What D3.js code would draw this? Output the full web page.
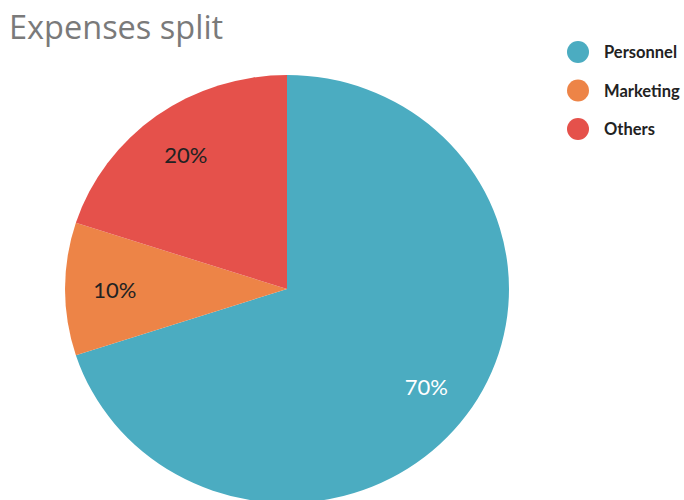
<!DOCTYPE html>
<html>
<head>
<meta charset="utf-8">
<script src="https://cdn.jsdelivr.net/npm/d3@7"></script>
<style>
  body { margin: 0; background: #fff; }
  svg { display: block; }
</style>
</head>
<body>
<div id="chart"></div>
<script>
var categories = ["Personnel", "Marketing", "Others"];
var values = [70, 10, 20];
var colors = ["#4bacc1", "#ed8447", "#e5514b"];
var labelColors = ["#ffffff", "#222222", "#222222"];

var svgWidth = 684;
var svgHeight = 500;

var svg = d3.select("#chart")
  .append("svg")
  .attr("width", svgWidth)
  .attr("height", svgHeight);

// title
svg.append("text")
  .attr("x", 9)
  .attr("y", 39)
  .attr("font-family", "Open Sans, sans-serif")
  .attr("font-size", 32.5)
  .attr("fill", "#7a7a7a")
  .text("Expenses split");

// pie is slightly wider than tall in the reference
var cx = 287, cy = 289;
var ry = 214, rx = 222;

var pie = d3.pie().sort(null).value(d => d);
var arcs = pie(values);

var arc = d3.arc().innerRadius(0).outerRadius(ry);
var labelArc = d3.arc().innerRadius(166).outerRadius(166);

var pieGroup = svg.append("g")
  .attr("transform", `translate(${cx}, ${cy}) scale(${rx / ry}, 1)`);

pieGroup.selectAll("path")
  .data(arcs)
  .enter()
  .append("path")
  .attr("d", arc)
  .attr("fill", (d, i) => colors[i]);

var labelGroup = svg.append("g")
  .attr("transform", `translate(${cx}, ${cy})`);

labelGroup.selectAll("text")
  .data(arcs)
  .enter()
  .append("text")
  .attr("x", d => labelArc.centroid(d)[0] * rx / ry)
  .attr("y", d => labelArc.centroid(d)[1])
  .attr("text-anchor", "middle")
  .attr("dominant-baseline", "central")
  .attr("font-family", "Lato, sans-serif")
  .attr("font-size", 22)
  .attr("fill", (d, i) => labelColors[i])
  .text(d => d.data + "%");

// legend
var legend = svg.append("g")
  .attr("transform", "translate(578, 52)");

var items = legend.selectAll("g")
  .data(categories)
  .enter()
  .append("g")
  .attr("transform", (d, i) => `translate(0, ${i * 38.5})`);

items.append("circle")
  .attr("r", 11)
  .attr("fill", (d, i) => colors[i]);

items.append("text")
  .attr("x", 26)
  .attr("y", 0)
  .attr("dominant-baseline", "central")
  .attr("font-family", "Lato, sans-serif")
  .attr("font-weight", "bold")
  .attr("font-size", 16.5)
  .attr("fill", "#222")
  .text(d => d);
</script>
</body>
</html>
